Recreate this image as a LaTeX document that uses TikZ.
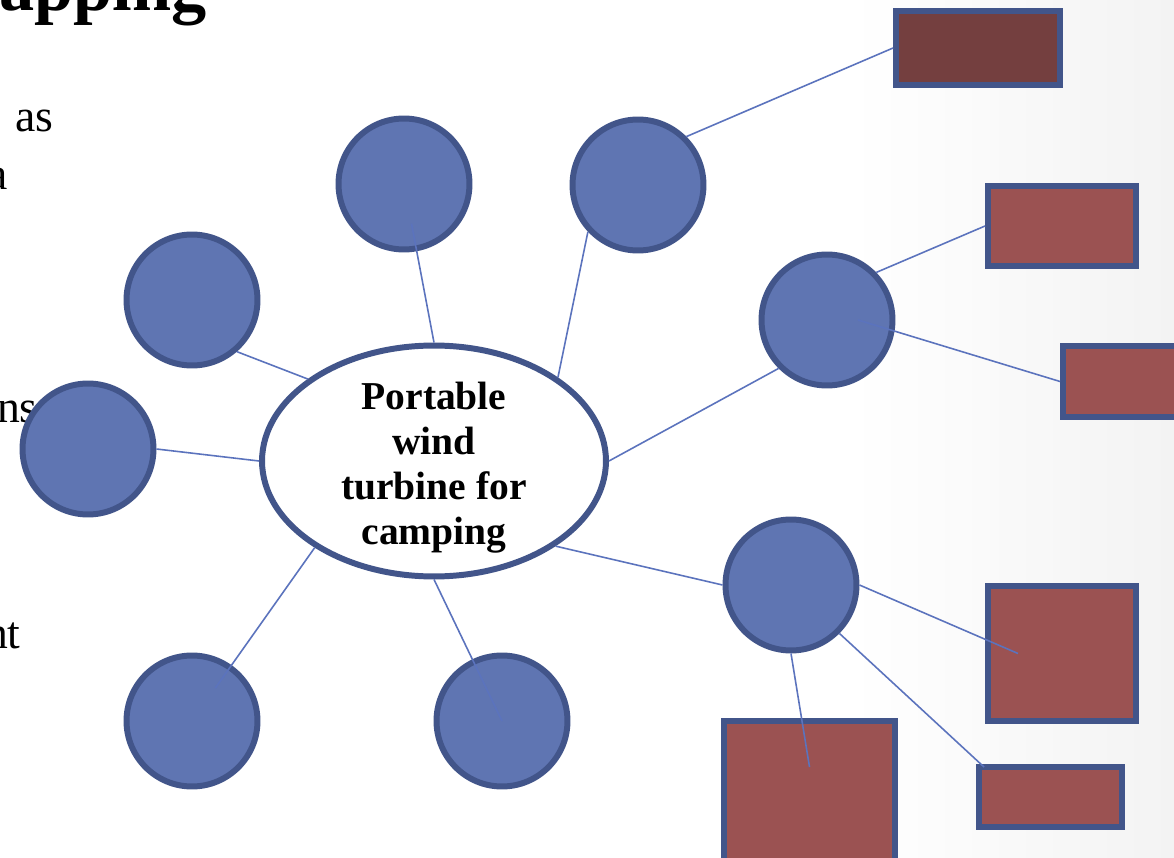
\documentclass[tikz,border=0pt]{standalone}
\usepackage{fontspec}
\setmainfont{Liberation Serif}
\usepackage{tikz}
\usetikzlibrary{shapes.geometric,calc}
\definecolor{cbub}{HTML}{5F75B2}
\definecolor{cborder}{HTML}{42558A}
\definecolor{clink}{HTML}{5B73BD}
\definecolor{cbox}{HTML}{9B5252}
\definecolor{cboxdark}{HTML}{743F3F}
\definecolor{cbg}{HTML}{F3F3F3}

\begin{document}
\begin{tikzpicture}[
    x=0.02cm, y=-0.02cm,
    bub/.style={circle, draw=cborder, fill=cbub, line width=3.4pt,
                minimum size=2.62cm, inner sep=0pt},
    box/.style={rectangle, draw=cborder, fill=cbox, line width=3.4pt, inner sep=0pt},
    hubnode/.style={ellipse, draw=cborder, fill=white, line width=3.4pt,
                minimum width=6.88cm, minimum height=4.62cm, inner xsep=0pt, inner ysep=-10pt,
                align=center, font=\bfseries\fontsize{22.5}{25.5}\selectfont},
    link/.style={draw=clink, line width=0.9pt},
    body/.style={anchor=base east, inner sep=0pt, font=\fontsize{26}{30}\selectfont},
]

\useasboundingbox (0,0) rectangle (1174,858);
\clip (0,0) rectangle (1174,858);

% Slide background
\fill[white] (0,0) rectangle (850,858);
\fill[left color=white, right color=cbg] (850,0) rectangle (1174,858);

% Slide text cut off at the left edge
\node[anchor=base east, inner sep=0pt, font=\bfseries\fontsize{40}{44}\selectfont]
    (title) at (207,11) {apping};
\node[body] (t1) at (54,132) {as};
\node[body] (t2) at (8,190) {a};
\node[body] (t3) at (38,422) {ns};
\node[body] (t4) at (21,648) {nt};

% === Central topic ===
\node[hubnode] (hub) at (434,461) {\rule{0pt}{23pt}Portable\\ wind\\ turbine for\\ camping};

% === First level ===
\node[bub] (c1) at (404,184) {};
\node[bub] (c2) at (638,185) {};
\node[bub] (c3) at (192,300) {};
\node[bub] (c4) at (88,449) {};
\node[bub] (c5) at (192,721) {};
\node[bub] (c6) at (502,721) {};
\node[bub] (c7) at (827,320) {};
\node[bub] (c8) at (791,585) {};

% === Second level ===
\node[box, fill=cboxdark, minimum width=3.28cm, minimum height=1.48cm] (r1) at (978,48) {};
\node[box, minimum width=2.96cm, minimum height=1.60cm] (r2) at (1062,226) {};
\node[box, minimum width=2.96cm, minimum height=1.42cm] (r3) at (1137,381.5) {};
\node[box, minimum width=2.96cm, minimum height=2.70cm] (r4) at (1062,653.5) {};
\node[box, minimum width=2.86cm, minimum height=1.20cm] (r5) at (1050.5,797) {};
\node[box, minimum width=3.42cm, minimum height=2.92cm] (r6) at (809.5,794) {};

% Spokes from the centre
\draw[link] (hub.north) -- ($(c1)!0.25!(hub.north)$);
\draw[link] (hub.34) -- (c2.223);
\draw[link] (hub.147) -- (c3.311);
\draw[link] (hub.west) -- (c4.east);
\draw[link] (hub.216) -- ($(c5)!0.19!(hub.216)$);
\draw[link] (hub.south) -- (c6.center);
\draw[link] (hub.east) -- (c7.225);
\draw[link] (hub.-35) -- (c8.west);

% Branches to the boxes
\draw[link] (c2.45) -- (r1.west);
\draw[link] (c7.44) -- (r2.west);
\draw[link] ($(c7.center)+(31,0)$) -- (r3.west);
\draw[link] (c8.east) -- ($(r4.center)+(-44,0)$);
\draw[link] (c8.-45) -- ($(r5.north west)+(8,3)$);
\draw[link] (c8.south) -- ($(r6.center)+(0,-27)$);

\end{tikzpicture}
\end{document}
